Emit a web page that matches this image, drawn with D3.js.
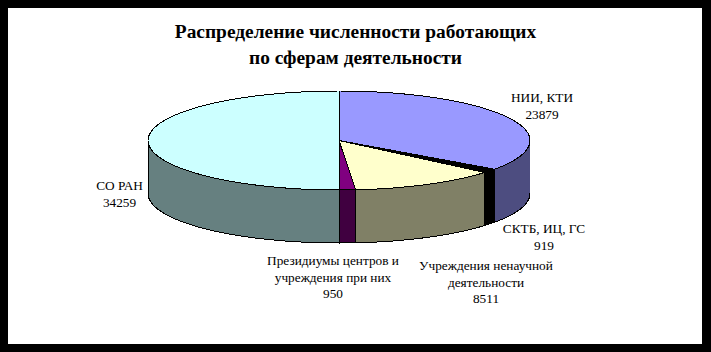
<!DOCTYPE html>
<html><head><meta charset="utf-8">
<script src="https://cdn.jsdelivr.net/npm/d3@7"></script>
<style>html,body{margin:0;padding:0;background:#fff}svg{display:block}text{font-family:"Liberation Serif",serif;fill:#000}</style>
</head><body><script>
const titleLines = ["Распределение численности работающих", "по сферам деятельности"];
const categories = ["НИИ, КТИ", "СКТБ, ИЦ, ГС", "Учреждения ненаучной деятельности", "Президиумы центров и учреждения при них", "СО РАН"];
const values = [23879, 919, 8511, 950, 34259];
const labelLines = [["НИИ, КТИ"], ["СКТБ, ИЦ, ГС"], ["Учреждения ненаучной", "деятельности"], ["Президиумы центров и", "учреждения при них"], ["СО РАН"]];
const topColors = ["#9999ff", "#000000", "#ffffcc", "#800080", "#ccffff"];
const sideColors = ["#4d4d80", "#000000", "#808066", "#400040", "#668080"];

const W = 711, H = 352;
const cx = 339, cy = 140.5, rx = 191, ry = 49.5, depth = 53;
const labelX = [542, 544, 486, 333, 119.5];
const labelY = [102, 233, 270, 265, 190];
const lineStep = 16.5;

const svg = d3.select("body").append("svg").attr("width", W).attr("height", H);
svg.append("rect").attr("x", 0).attr("y", 0).attr("width", W).attr("height", H).attr("fill", "#000");
svg.append("rect").attr("x", 8).attr("y", 8).attr("width", 694).attr("height", 336).attr("fill", "#fff");

const sx = d3.scaleLinear().domain([-1, 1]).range([cx - rx, cx + rx]);
const sy = d3.scaleLinear().domain([-1, 1]).range([cy - ry, cy + ry]);
const line = d3.line();
const arcs = d3.pie().sort(null)(values);
const rim = (a, dy = 0) => [sx(Math.sin(a)), sy(-Math.cos(a)) + dy];
const samples = (a0, a1) => d3.range(0, 61).map(i => a0 + (a1 - a0) * i / 60);

const g = svg.append("g").attr("stroke", "#000").attr("stroke-width", 1).attr("stroke-linejoin", "round").attr("shape-rendering", "crispEdges");
const PI = Math.PI;
// Side walls: only the front half of the rim (angles from PI/2 to 3PI/2) is visible
arcs.forEach((d, i) => {
  const a0 = Math.max(d.startAngle, PI / 2), a1 = Math.min(d.endAngle, 3 * PI / 2);
  if (a1 <= a0) return;
  const s = samples(a0, a1);
  const pts = s.map(a => rim(a)).concat(s.slice().reverse().map(a => rim(a, depth)));
  g.append("path").attr("d", line(pts) + "Z").attr("fill", sideColors[i]);
});
// Top faces
arcs.forEach((d, i) => {
  const pts = [[cx, cy]].concat(samples(d.startAngle, d.endAngle).map(a => rim(a)));
  g.append("path").attr("d", line(pts) + "Z").attr("fill", topColors[i]);
});

const title = svg.append("text").attr("text-anchor", "middle").attr("font-weight", "bold").attr("font-size", 19.4);
titleLines.forEach((t, i) => title.append("tspan").attr("x", 355.5).attr("y", 38 + i * 26).text(t));

categories.forEach((c, i) => {
  const t = svg.append("text").attr("text-anchor", "middle").attr("font-size", 13.3);
  labelLines[i].concat([String(values[i])]).forEach((l, j) =>
    t.append("tspan").attr("x", labelX[i]).attr("y", labelY[i] + j * lineStep).text(l));
});
</script></body></html>
